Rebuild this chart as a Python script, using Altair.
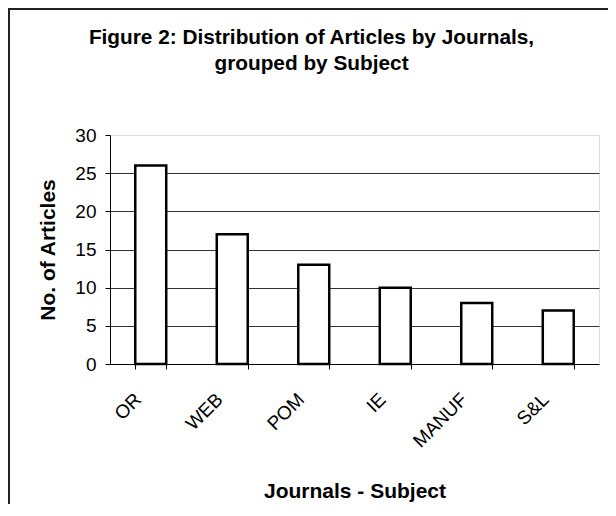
import altair as alt
import pandas as pd

categories = ["OR", "WEB", "POM", "IE", "MANUF", "S&L"]
articles = [26, 17, 13, 10, 8, 7]
y_ticks = [0, 5, 10, 15, 20, 25, 30]

df = pd.DataFrame({"journal": categories, "articles": articles})

W, H = 489, 229
PAD_L, PAD_T, PAD_R, PAD_B = 102, 127, 9, 140
FONT = "Liberation Sans, Arial, sans-serif"

bars = alt.Chart(df).mark_bar(fill="white", stroke="black", strokeWidth=2.5).encode(
    x=alt.X(
        "journal:N",
        sort=categories,
        title="Journals - Subject",
        scale=alt.Scale(paddingInner=0.62, paddingOuter=0.31),
        axis=alt.Axis(
            labelAngle=-45, labelAlign="right", labelBaseline="middle",
            labelOffset=-13, labelPadding=27, tickBand="extent",
            tickSize=5, tickColor="black", domainColor="black",
            labelFontSize=19, labelColor="black", labelFont=FONT,
            titleFontSize=21, titleFont=FONT, titleColor="black",
            titleFontWeight="bold", titlePadding=30, grid=False,
        ),
    ),
    y=alt.Y(
        "articles:Q",
        scale=alt.Scale(domain=[0, 30], nice=False),
        title="No. of Articles",
        axis=alt.Axis(
            values=y_ticks, tickSize=5, tickColor="black", domainColor="black",
            labelFontSize=19, labelColor="black", labelFont=FONT, labelPadding=9,
            titleFontSize=21, titleFont=FONT, titleColor="black",
            titleFontWeight="bold", titlePadding=16,
            grid=True,
            gridColor={"condition": {"test": "datum.value === 30 || datum.value === 0", "value": "transparent"}, "value": "#333333"},
            gridWidth=1.2,
        ),
    ),
)

src = alt.Chart(pd.DataFrame({"k": [0]}))
left_line = src.mark_rule(color="#222222", strokeWidth=2).encode(
    x=alt.value(-PAD_L + 1), y=alt.value(-PAD_T), y2=alt.value(H + PAD_B)
)
top_line = src.mark_rule(color="#222222", strokeWidth=2).encode(
    y=alt.value(-PAD_T + 1), x=alt.value(-PAD_L), x2=alt.value(W + PAD_R)
)

chart = alt.layer(bars, left_line, top_line).properties(
    width=W,
    height=H,
    autosize=alt.AutoSizeParams(type="none"),
    padding={"left": PAD_L, "top": PAD_T, "right": PAD_R, "bottom": PAD_B},
    title=alt.TitleParams(
        text=["Figure 2: Distribution of Articles by Journals,", "grouped by Subject"],
        font=FONT, fontSize=20.8, fontWeight="bold", color="black",
        anchor="middle", dx=-43, dy=68, lineHeight=26, offset=0,
    ),
).configure_view(fill="#c0c0c0", strokeWidth=0).configure(background="white")

chart.save("out.html", embed_options={"renderer": "svg", "actions": False})
